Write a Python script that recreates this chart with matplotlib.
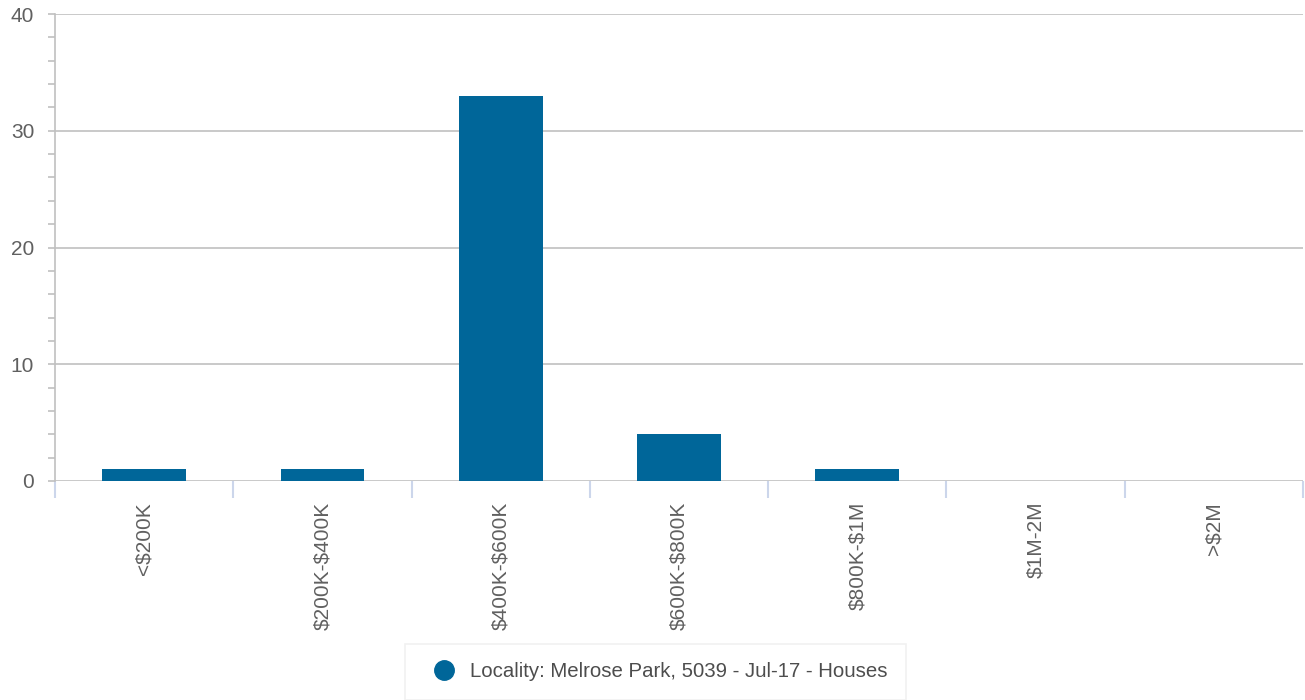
import matplotlib
matplotlib.use("Agg")
import matplotlib.pyplot as plt
from matplotlib.lines import Line2D
from matplotlib.ticker import MultipleLocator

categories = ["<$200K", "$200K-$400K", "$400K-$600K", "$600K-$800K", "$800K-$1M", "$1M-2M", ">$2M"]
counts = [1, 1, 33, 4, 1, 0, 0]
series_name = "Locality: Melrose Park, 5039 - Jul-17 - Houses"

plt.rcParams["font.family"] = ["Liberation Sans", "DejaVu Sans"]
plt.rcParams["text.parse_math"] = False  # labels contain "$"

bar_color = "#006699"
grid_color = "#c0c0c0"
text_color = "#606060"

fig = plt.figure(figsize=(13.05, 7.0), dpi=100)
ax = fig.add_axes([55 / 1305, 1 - 481 / 700, 1248 / 1305, 467 / 700])

x = list(range(len(categories)))
ax.bar(x, counts, width=0.47, color=bar_color, zorder=3)

ax.set_xlim(-0.5, len(categories) - 0.5)
ax.set_ylim(0, 40)
ax.yaxis.set_major_locator(MultipleLocator(10))
ax.yaxis.set_minor_locator(MultipleLocator(2))
ax.grid(axis="y", which="major", color=grid_color, linewidth=1.2, zorder=0)

for side in ["top", "right", "bottom"]:
    ax.spines[side].set_visible(False)
ax.spines["left"].set_color(grid_color)
ax.spines["left"].set_linewidth(1.2)

ax.tick_params(axis="y", which="both", direction="out", color=grid_color, width=1.2,
               length=5, labelsize=15, labelcolor=text_color, pad=10)

# category labels at bar centres, boundary ticks between categories
ax.set_xticks(x)
ax.set_xticklabels(categories, rotation=90, fontsize=15, color=text_color)
ax.set_xticks([i - 0.5 for i in range(len(categories) + 1)], minor=True)
ax.tick_params(axis="x", which="major", length=0, pad=15)
ax.tick_params(axis="x", which="minor", length=12, width=1.5, color="#ccd6eb", direction="out")

handle = Line2D([], [], marker="o", linestyle="none", markersize=14,
                markerfacecolor=bar_color, markeredgecolor=bar_color)
leg = fig.legend([handle], [series_name], loc="upper center",
                 bbox_to_anchor=(655.5 / 1305, 1 - 644 / 700), frameon=True,
                 fancybox=False, fontsize=14.7, borderpad=0.9, handletextpad=0.3,
                 labelcolor="#4d4d4d", borderaxespad=0)
leg.get_frame().set_edgecolor("#eeeeee")
leg.get_frame().set_linewidth(1.2)

fig.savefig("out.png", dpi=100)
